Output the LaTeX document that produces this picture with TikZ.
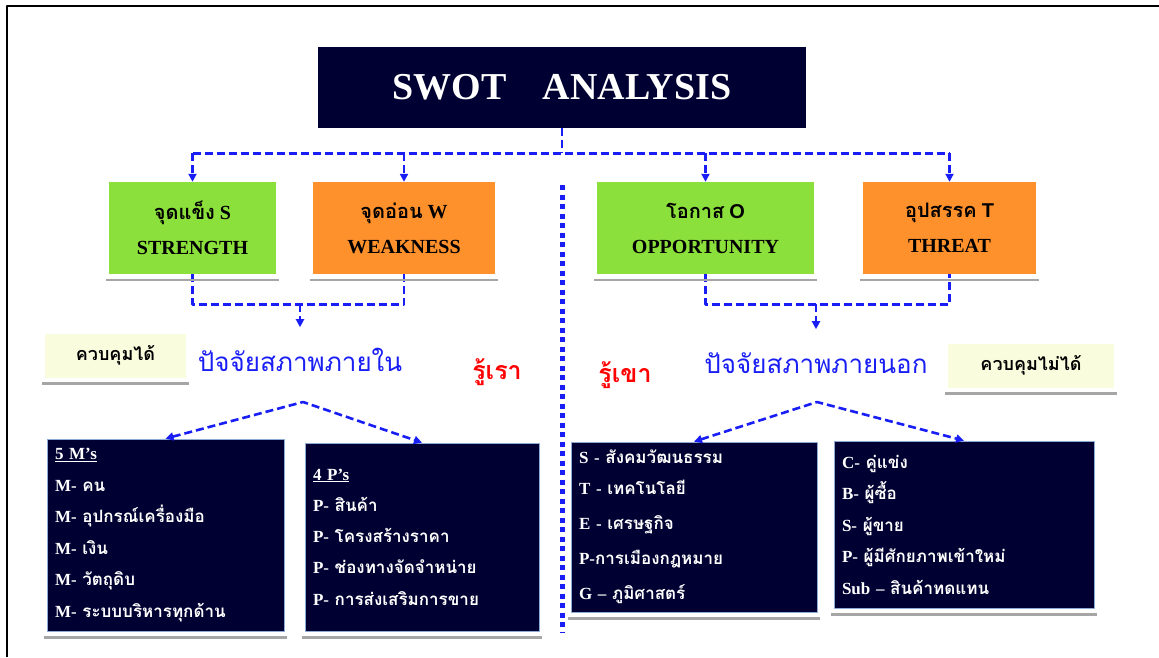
\documentclass[tikz,border=0pt]{standalone}
\usepackage{fontspec}
\setmainfont{Liberation Serif}
\newfontfamily\thaifont[Script=Thai]{Loma}
\newfontfamily\headsans{Liberation Sans}
\usetikzlibrary{arrows.meta}
\newcommand\thtxt[1]{{\thaifont #1}}
\definecolor{navy}{RGB}{0,0,50}
\definecolor{sgreen}{RGB}{140,224,60}
\definecolor{sorange}{RGB}{255,145,45}
\definecolor{paleyellow}{RGB}{250,252,222}
\definecolor{linkblue}{RGB}{25,30,245}
\definecolor{edgeblue}{RGB}{140,170,210}
\tikzset{
  swot/.style={minimum height=92pt,inner sep=0pt,align=center,
    font=\fontsize{20}{35}\selectfont\bfseries},
  note/.style={fill=paleyellow,inner sep=0pt,minimum height=44pt,
    font=\thaifont\fontsize{18}{20}\selectfont\bfseries},
  items/.style={fill=navy,draw=edgeblue,line width=0.8pt,text=white,
    align=left,inner sep=8pt,font=\fontsize{17}{31.5}\selectfont\bfseries},
  link/.style={linkblue,line width=2.6pt,dash pattern=on 8pt off 4pt},
  divider/.style={linkblue,line width=5pt,dash pattern=on 5pt off 4.5pt},
  shadowline/.style={gray!70,line width=2.5pt},
  >={Triangle[length=8pt,width=8pt]}
}
\begin{document}
\begin{tikzpicture}[x=1pt,y=-1pt,line join=round]
\useasboundingbox (0,0) rectangle (1159,657);
% frame
\draw[line width=2.2pt] (7,657) -- (7,6) -- (1159,6);

% title and the four boxes
\node[fill=navy,minimum width=488pt,minimum height=81pt,text=white,
  font=\fontsize{38}{40}\selectfont\bfseries] (title) at (562,87.5)
  {SWOT\hspace{0.95em}ANALYSIS};
\node[swot,fill=sgreen,minimum width=167pt] (S) at (192.5,228) {\thtxt{จุดแข็ง} S\\STRENGTH};
\node[swot,fill=sorange,minimum width=182pt] (W) at (404,228) {\thtxt{จุดอ่อน} W\\WEAKNESS};
\node[swot,fill=sgreen,minimum width=217pt] (O) at (705.5,228) {\thtxt{โอกาส} {\headsans O}\\OPPORTUNITY};
\node[swot,fill=sorange,minimum width=173pt] (T) at (949.5,228) {\thtxt{อุปสรรค} {\headsans T}\\THREAT};

\draw[link] (title.south) -- ++(0,25) coordinate (bus);
\draw[link] (bus -| S.north) -- (bus -| T.north);
\foreach \b in {S,W,O,T}
  \draw[link,->] (bus -| \b.north) -- (\b.north);

\draw[divider] (562,185) -- (562,632);

% inside / outside factors
\node[note,minimum width=141pt] (ctrlin) at (115.5,355.5) {ควบคุมได้};
\node[note,minimum width=166pt] (ctrlout) at (1031,365.5) {ควบคุมไม่ได้};
\node[text=linkblue,font=\thaifont\fontsize{26}{30}\selectfont] (inner) at (300,360) {ปัจจัยสภาพภายใน};
\node[text=linkblue,font=\thaifont\fontsize{26}{30}\selectfont] (outer) at (816,363) {ปัจจัยสภาพภายนอก};
\node[text=red,font=\thaifont\fontsize{25}{28}\selectfont\bfseries] (us) at (497,372) {รู้เรา};
\node[text=red,font=\thaifont\fontsize{25}{28}\selectfont\bfseries] (them) at (625,375) {รู้เขา};

\draw[link] (S.south) -- ++(0,30) coordinate (inmerge) -| (W.south);
\draw[link] (O.south) -- ++(0,30) coordinate (outmerge) -| (T.south);
\draw[link,->] (inmerge -| 300,0) -- ++(0,23);
\draw[link,->] (outmerge -| 816,0) -- ++(0,25);

% lists
\node[items,text width=221pt,minimum height=192pt] (mbox) at (165.5,535) {%
  \underline{5 M's}\\
  M- \thtxt{คน}\\
  M- \thtxt{อุปกรณ์เครื่องมือ}\\
  M- \thtxt{เงิน}\\
  M- \thtxt{วัตถุดิบ}\\
  M- \thtxt{ระบบบริหารทุกด้าน}};
\node[items,text width=218pt,minimum height=188pt,
  font=\fontsize{17}{31.25}\selectfont\bfseries] (pbox) at (422,537) {%
  \underline{4 P's}\\
  P- \thtxt{สินค้า}\\
  P- \thtxt{โครงสร้างราคา}\\
  P- \thtxt{ช่องทางจัดจำหน่าย}\\
  P- \thtxt{การส่งเสริมการขาย}};
\node[items,text width=230pt,minimum height=170pt,
  font=\fontsize{17}{35}\selectfont\bfseries] (pestbox) at (694,527) {%
  S - \thtxt{สังคมวัฒนธรรม}\\[-4pt]
  T - \thtxt{เทคโนโลยี}\\
  E - \thtxt{เศรษฐกิจ}\\
  P-\thtxt{การเมืองกฎหมาย}\\
  G -- \thtxt{ภูมิศาสตร์}};
\node[items,text width=244pt,minimum height=167pt] (fivebox) at (964,524.5) {%
  C- \thtxt{คู่แข่ง}\\
  B- \thtxt{ผู้ซื้อ}\\
  S- \thtxt{ผู้ขาย}\\
  P- \thtxt{ผู้มีศักยภาพเข้าใหม่}\\
  Sub -- \thtxt{สินค้าทดแทน}};

\coordinate (inapex) at (303,402);
\coordinate (outapex) at (817,402);
\draw[link,<->] (mbox.north) -- (inapex) -- (pbox.north);
\draw[link,<->] (pestbox.north) -- (outapex) -- (fivebox.north);

% grey rules under the boxes
\foreach \b in {S,W,O,T,ctrlin,ctrlout,mbox,pbox,pestbox,fivebox}
  \draw[shadowline] ([xshift=-3pt,yshift=-6pt]\b.south west) -- ([xshift=3pt,yshift=-6pt]\b.south east);
\end{tikzpicture}
\end{document}
